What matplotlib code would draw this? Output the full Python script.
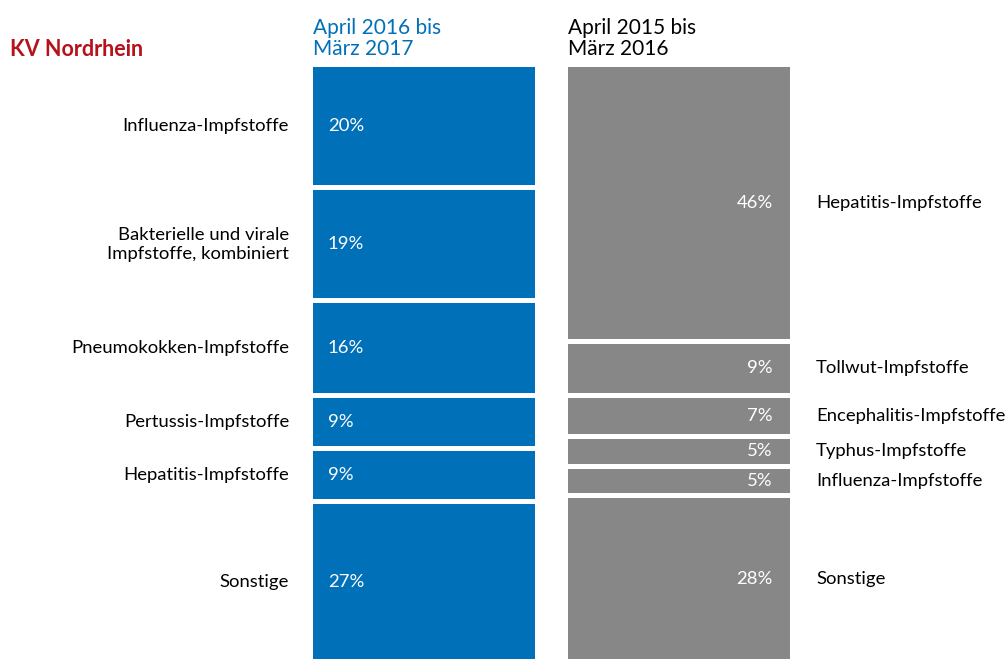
import numpy as np
import matplotlib
matplotlib.use("Agg")
import matplotlib.pyplot as plt

# shares in percent, top to bottom
cur_labels = ["Influenza-Impfstoffe", "Bakterielle und virale\nImpfstoffe, kombiniert",
              "Pneumokokken-Impfstoffe", "Pertussis-Impfstoffe",
              "Hepatitis-Impfstoffe", "Sonstige"]
cur_values = [20, 19, 16, 9, 9, 27]
prev_labels = ["Hepatitis-Impfstoffe", "Tollwut-Impfstoffe", "Encephalitis-Impfstoffe",
               "Typhus-Impfstoffe", "Influenza-Impfstoffe", "Sonstige"]
prev_values = [46, 9, 7, 5, 5, 28]
headers = ["April 2016 bis\nMärz 2017", "April 2015 bis\nMärz 2016"]

BLUE = "#0070b8"
GREY = "#878787"
RED = "#b5121b"
GAP = 0.85       # white gap cut from the top of each segment, percent units
W = 0.869        # bar width in category units
FS = 13.3

plt.rcParams["font.family"] = ["Lato", "DejaVu Sans"]

fig = plt.figure(figsize=(10.06, 6.59), dpi=100)
# axes spans exactly the two columns, from top of bars to bottom of image
ax = fig.add_axes([313 / 1006, 0, 477 / 1006, 592 / 659])
ax.set_ylim(100, 0)
ax.set_xlim(-W / 2, 1 + W / 2)
ax.axis("off")


def stack(x, values, color):
    v = np.array(values, dtype=float)
    starts = np.concatenate([[0], np.cumsum(v[:-1])])
    cut = np.where(starts > 0, GAP, 0)
    ax.bar(x, v - cut, W, bottom=starts + cut, color=color, linewidth=0)
    return starts + cut + (v - cut) / 2


mid_cur = stack(0, cur_values, BLUE)
mid_prev = stack(1, prev_values, GREY)

for lab, v, y in zip(cur_labels, cur_values, mid_cur):
    ax.annotate(lab, (-W / 2, y), xytext=(-24, 0), textcoords="offset pixels",
                ha="right", va="center", fontsize=FS, color="black",
                linespacing=1.25, annotation_clip=False)
    ax.annotate(f"{v}%", (-W / 2, y), xytext=(15, 0), textcoords="offset pixels",
                ha="left", va="center", fontsize=FS, color="white")

for lab, v, y in zip(prev_labels, prev_values, mid_prev):
    ax.annotate(f"{v}%", (1 + W / 2, y), xytext=(-17, 0), textcoords="offset pixels",
                ha="right", va="center", fontsize=FS, color="white")
    ax.annotate(lab, (1 + W / 2, y), xytext=(26, 0), textcoords="offset pixels",
                ha="left", va="center", fontsize=FS, color="black",
                annotation_clip=False)

for x, h, c in zip([0, 1], headers, [BLUE, "black"]):
    ax.annotate(h, (x - W / 2, 0), xytext=(0, 8), textcoords="offset pixels",
                ha="left", va="bottom", fontsize=15, color=c, linespacing=1.05,
                annotation_clip=False)

fig.text(10 / 1006, 1 - 49 / 659, "KV Nordrhein", ha="left", va="center",
         fontsize=15.5, fontweight="bold", color=RED)

fig.savefig("out.png", dpi=100)
